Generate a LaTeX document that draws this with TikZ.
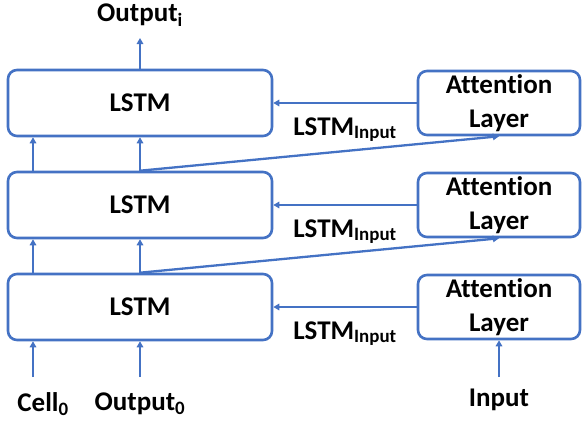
\documentclass[tikz,border=0pt]{standalone}
\usepackage{fontspec}
\setmainfont[Ligatures={NoCommon}]{Carlito}
\usepackage{tikz}
\usetikzlibrary{arrows.meta}

\definecolor{lineblue}{HTML}{4472C4}

\tikzset{
  cellbox/.style={draw=lineblue, line width=2.6pt, rounded corners=9pt,
    minimum width=264pt, minimum height=66pt, inner sep=0pt},
  attbox/.style={draw=lineblue, line width=2.6pt, rounded corners=9pt,
    minimum width=162pt, minimum height=64pt, inner sep=0pt, align=center},
  flow/.style={draw=lineblue, line width=2.3pt, -{Triangle[length=6pt,width=6.5pt]}},
  lbl/.style={font=\fontsize{27}{34}\selectfont\bfseries}
}

\begin{document}
\begin{tikzpicture}[x=1pt, y=-1pt, lbl]

\useasboundingbox (0,0) rectangle (582,423);

\node[cellbox] (lstmA) at (140, 307) {LSTM};
\node[cellbox] (lstmB) at (140, 205) {LSTM};
\node[cellbox] (lstmC) at (140, 103) {LSTM};
\node[attbox] (attA) at (499, 307) {Attention\\Layer};
\node[attbox] (attB) at (499, 205) {Attention\\Layer};
\node[attbox] (attC) at (499, 103) {Attention\\Layer};

\node (cell) at (43, 404) {Cell\textsubscript{0}};
\node (outz) at (140, 404) {Output\textsubscript{0}};
\node (inp) at (499, 400) {Input};
\node (outi) at (140, 15) {Output\textsubscript{i}};

\coordinate (cellin) at (33, 377);
\coordinate (outin) at (140, 377);
\coordinate (inpin) at (499, 377);
\coordinate (outtop) at (140, 38);

% inputs
\draw[flow] (cellin) -- (cellin |- lstmA.south);
\draw[flow] (outin) -- (lstmA.south);
\draw[flow] (inpin) -- (attA.south);

% between cells
\draw[flow] (lstmA.north -| cellin) -- (lstmB.south -| cellin);
\draw[flow] (lstmA.north) -- (lstmB.south);
\draw[flow] (lstmB.north -| cellin) -- (lstmC.south -| cellin);
\draw[flow] (lstmB.north) -- (lstmC.south);
\draw[flow] (lstmC.north) -- (outtop);

% attention
\draw[flow] (lstmA.north) -- (attB.south);
\draw[flow] (lstmB.north) -- (attC.south);
\draw[flow] (attA.west) -- node[below=10pt] {LSTM\textsubscript{Input}} (lstmA.east);
\draw[flow] (attB.west) -- node[below=10pt] {LSTM\textsubscript{Input}} (lstmB.east);
\draw[flow] (attC.west) -- node[below=10pt] {LSTM\textsubscript{Input}} (lstmC.east);

\end{tikzpicture}
\end{document}
